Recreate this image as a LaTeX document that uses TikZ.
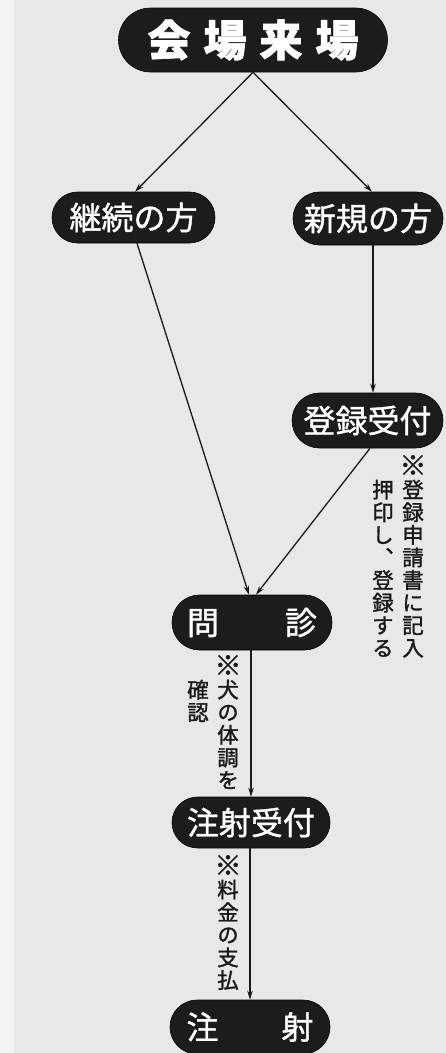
\documentclass[tikz,border=0pt]{standalone}
\usepackage{fontspec}
\newfontfamily\jp[FakeBold=1.2]{Noto Sans CJK JP}
\newfontfamily\jpb[BoldFeatures={FakeBold=1.6}]{Noto Sans CJK JP}
\newfontfamily\jpv[RawFeature=+vert, FakeBold=1.4]{Noto Sans CJK JP}
\newcommand{\kome}{{\fontsize{27}{22.6}\selectfont ※}}
\usetikzlibrary{arrows.meta}
\definecolor{bgc}{HTML}{E8E8E8}
\definecolor{bgl}{HTML}{F3F3F3}
\definecolor{boxc}{HTML}{1C1C1C}
\definecolor{inkc}{HTML}{1A1A1A}
\tikzset{
  pill/.style={fill=boxc, draw=black, line width=0.6pt, text=white, inner sep=0pt,
    font=\jp\fontsize{32}{36}\selectfont},
  titlepill/.style={pill, font=\jpb\bfseries\fontsize{43}{48}\selectfont},
  arr/.style={draw=inkc, line width=1.3pt, -{Stealth[length=9pt,width=5.5pt]}},
  note/.style={anchor=north, align=center, inner sep=0pt, text=inkc,
    font=\jpv\fontsize{21.5}{22.6}\selectfont}
}
\begin{document}
\begin{tikzpicture}[x=1pt,y=-1pt]
\fill[bgc] (0,0) rectangle (446,1053);
\fill[bgl] (0,0) rectangle (14,1053);
\useasboundingbox (0,0) rectangle (446,1053);

\node[titlepill, minimum width=269pt, minimum height=64pt, rounded corners=32pt] (top) at (253,40)
  {会\hspace{13pt}場\hspace{13pt}来\hspace{13pt}場};
\node[pill, minimum width=163pt, minimum height=51pt, rounded corners=25.5pt] (k) at (133.5,217.5) {継続の方};
\node[pill, minimum width=150pt, minimum height=53pt, rounded corners=26.5pt] (s) at (368,218.5) {新規の方};
\node[pill, minimum width=151pt, minimum height=55pt, rounded corners=27.5pt] (r) at (367.5,420.5) {登録受付};
\node[pill, minimum width=160pt, minimum height=55pt, rounded corners=27.5pt] (m) at (252,622.5) {問\hspace{66pt}診};
\node[pill, minimum width=158pt, minimum height=51pt, rounded corners=25.5pt] (c) at (251,822.5) {注射受付};
\node[pill, minimum width=160pt, minimum height=54pt, rounded corners=27pt] (i) at (250,1027) {注\hspace{63pt}射};

\draw[arr] (top.south) -- ([xshift=1.5pt]k.north);
\draw[arr] (top.south) -- ([xshift=4pt]s.north);
\draw[arr] ([xshift=3.5pt]k.south) -- ([xshift=-3pt]m.north);
\draw[arr] ([xshift=5pt]s.south) -- ([xshift=5.5pt]r.north);
\draw[arr] ([xshift=2.5pt]r.south) -- ([xshift=4pt]m.north);
\draw[arr] ([xshift=-1pt]m.south) -- (c.north);
\draw[arr] ([xshift=-1pt]c.south) -- (i.north);

\node[note] (n1) at (413,455) {\kome\\登\\録\\申\\請\\書\\に\\記\\入};
\node[note] (n2) at (383,479.6) {押\\印\\し\\、\\登\\録\\す\\る};
\node[note] (n3) at (228,655) {\kome\\犬\\の\\体\\調\\を};
\node[note] (n4) at (198,679.6) {確\\認};
\node[note] (n5) at (228,855) {\kome\\料\\金\\の\\支\\払};
\end{tikzpicture}
\end{document}
